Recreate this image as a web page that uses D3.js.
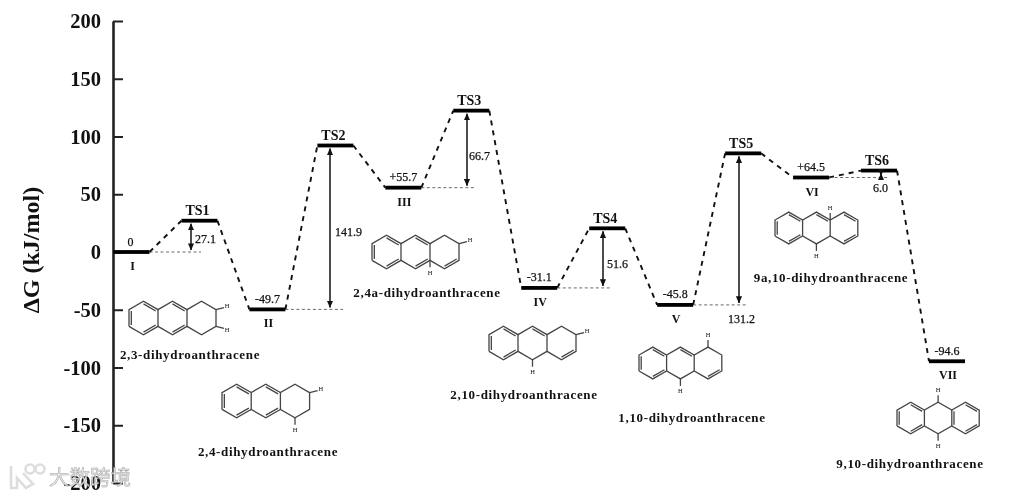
<!DOCTYPE html>
<html>
<head>
<meta charset="utf-8">
<script src="https://cdn.jsdelivr.net/npm/d3@7"></script>
<style>
  body { margin: 0; background: #fff; }
  svg { display: block; filter: blur(0.5px); }
  text { font-family: "Liberation Serif", serif; fill: #111; }
</style>
</head>
<body>
<div id="chart"></div>
<script>
// data
var stages = ["I", "TS1", "II", "TS2", "III", "TS3", "IV", "TS4", "V", "TS5", "VI", "TS6", "VII"];
var energies = [0, 27.1, -49.7, 92.2, 55.7, 122.4, -31.1, 20.5, -45.8, 85.4, 64.5, 70.5, -94.6];
var energyLabels = ["0", "", "-49.7", "", "+55.7", "", "-31.1", "", "-45.8", "", "+64.5", "", "-94.6"];
var barrierStages = [0, 2, 4, 6, 8, 10];
var barrierValues = ["27.1", "141.9", "66.7", "51.6", "131.2", "6.0"];
var yTicks = [200, 150, 100, 50, 0, -50, -100, -150, -200];
var moleculeNames = ["2,3-dihydroanthracene", "2,4-dihydroanthracene", "2,4a-dihydroanthracene",
  "2,10-dihydroanthracene", "1,10-dihydroanthracene", "9a,10-dihydroanthracene", "9,10-dihydroanthracene"];

// molecule structure: atoms are [column, row] on the anthracene lattice
var perimeter = [[0,.5],[0,-.5],[1,-1],[2,-.5],[3,-1],[4,-.5],[5,-1],[6,-.5],[6,.5],[5,1],[4,.5],[3,1],[2,.5],[1,1],[0,.5]];
var innerBonds = [[[2,-.5],[2,.5]], [[4,-.5],[4,.5]]];
var leftRing = [[[0,-.5],[0,.5]], [[1,-1],[2,-.5]], [[1,1],[2,.5]]];
var midDoubles = [[[3,-1],[4,-.5]], [[3,1],[4,.5]]];
var moleculeDoubles = [
  leftRing.concat(midDoubles),
  leftRing.concat(midDoubles),
  leftRing.concat(midDoubles, [[[5,1],[6,.5]]]),
  leftRing.concat([[[3,-1],[4,-.5]], [[5,1],[6,.5]]]),
  leftRing.concat([[[3,-1],[4,-.5]], [[5,1],[6,.5]]]),
  leftRing.concat([[[3,-1],[4,-.5]], [[5,-1],[6,-.5]], [[5,1],[6,.5]]]),
  leftRing.concat([[[4,-.5],[4,.5]], [[5,-1],[6,-.5]], [[5,1],[6,.5]]])
];
var moleculeHydrogens = [
  [[6,-.5,"r"], [6,.5,"r"]],
  [[6,-.5,"r"], [5,1,"d"]],
  [[6,-.5,"r"], [4,.5,"d"]],
  [[6,-.5,"r"], [3,1,"d"]],
  [[5,-1,"u"], [3,1,"d"]],
  [[4,-.5,"u"], [3,1,"d"]],
  [[3,-1,"u"], [3,1,"d"]]
];

// layout
var width = 1011, height = 495;
var barWidth = 36;
var moleculeBoxes = [[129,318,14.5], [222,401,14.6], [372,252,14.5], [489,343,14.5], [639,363,13.8], [775,228,13.8], [897,418,13.7]];
var moleculeNamePos = [[190,359], [268,456], [427,297], [524,399], [692,422], [831,282], [910,468]];
var barrierArrowX = [191, 330, 467, 603, 739, 881];
var barrierRefEnd = [201, 343, 476, 610, 747, 888];
var barrierLabelPos = [[195,243], [335,236], [469,160], [607,268], [728,323], [873,192]];

var svg = d3.select("#chart").append("svg")
  .attr("width", width)
  .attr("height", height);

var x = d3.scaleLinear().domain([0, stages.length - 1]).range([113.5, 929]);
var y = d3.scaleLinear().domain([-200, 200]).range([483, 21]);

var defs = svg.append("defs");
defs.append("marker")
  .attr("id", "head")
  .attr("viewBox", "0 0 8 8")
  .attr("refX", 7.5).attr("refY", 4)
  .attr("markerWidth", 7).attr("markerHeight", 7)
  .attr("markerUnits", "userSpaceOnUse")
  .attr("orient", "auto-start-reverse")
  .append("path")
  .attr("d", "M0,0.5L8,4L0,7.5Z")
  .attr("fill", "#111");

// axis
var axis = d3.axisLeft(y)
  .tickValues(yTicks)
  .tickFormat(function(d) { return String(d); })
  .tickSizeInner(-10)
  .tickSizeOuter(0)
  .tickPadding(12);

var axisG = svg.append("g")
  .attr("transform", "translate(113,0)")
  .call(axis);
axisG.select(".domain").attr("stroke", "#222").attr("stroke-width", 2.6);
axisG.selectAll(".tick line").attr("stroke", "#222").attr("stroke-width", 2);
axisG.selectAll(".tick text")
  .attr("font-family", "Liberation Serif")
  .attr("font-weight", "bold")
  .attr("font-size", 20.5)
  .attr("fill", "#111");

svg.append("text")
  .attr("transform", "translate(39,250) rotate(-90)")
  .attr("text-anchor", "middle")
  .attr("font-weight", "bold")
  .attr("font-size", 24)
  .text("\u0394G (kJ/mol)");

// dashed connectors between levels
var connector = d3.line();
svg.selectAll("path.link")
  .data(d3.pairs(d3.range(stages.length)))
  .enter().append("path")
  .attr("class", "link")
  .attr("fill", "none")
  .attr("stroke", "#111")
  .attr("stroke-width", 1.9)
  .attr("stroke-dasharray", "5,5")
  .attr("d", function(p) {
    return connector([[x(p[0]) + barWidth, y(energies[p[0]])], [x(p[1]), y(energies[p[1]])]]);
  });

// energy levels
svg.selectAll("rect.level")
  .data(stages)
  .enter().append("rect")
  .attr("class", "level")
  .attr("x", function(d, i) { return x(i); })
  .attr("y", function(d, i) { return y(energies[i]) - 1.9; })
  .attr("width", barWidth)
  .attr("height", 3.8)
  .attr("fill", "#000");

// level names
svg.selectAll("text.stage")
  .data(stages)
  .enter().append("text")
  .attr("class", "stage")
  .attr("x", function(d, i) { return x(i) + barWidth / 2 + (i % 2 ? -2 : 1); })
  .attr("y", function(d, i) { return y(energies[i]) + (i % 2 ? -5.5 : 18); })
  .attr("text-anchor", "middle")
  .attr("font-weight", "bold")
  .attr("font-size", function(d, i) { return i % 2 ? 14 : 12; })
  .text(function(d) { return d; });

// energy values above minima
svg.selectAll("text.energy")
  .data(energyLabels)
  .enter().append("text")
  .attr("class", "energy")
  .attr("x", function(d, i) { return x(i) + barWidth / 2 + (i ? 0 : -1); })
  .attr("y", function(d, i) { return y(energies[i]) - 6.5; })
  .attr("text-anchor", "middle")
  .attr("font-size", 12)
  .attr("stroke", "#111")
  .attr("stroke-width", 0.25)
  .text(function(d) { return d; });

// barriers: thin reference line and double arrow
barrierStages.forEach(function(s, i) {
  var y0 = y(energies[s]), y1 = y(energies[s + 1]);
  svg.append("line")
    .attr("x1", x(s) + barWidth).attr("x2", barrierRefEnd[i])
    .attr("y1", y0).attr("y2", y0)
    .attr("stroke", "#444")
    .attr("stroke-width", 0.8)
    .attr("stroke-dasharray", "3,2.5");
  svg.append("line")
    .attr("x1", barrierArrowX[i]).attr("x2", barrierArrowX[i])
    .attr("y1", y0 - 2).attr("y2", y1 + 3)
    .attr("stroke", "#111")
    .attr("stroke-width", 1.5)
    .attr("marker-start", "url(#head)")
    .attr("marker-end", "url(#head)");
  svg.append("text")
    .attr("x", barrierLabelPos[i][0])
    .attr("y", barrierLabelPos[i][1])
    .attr("font-size", 12)
    .attr("stroke", "#111")
    .attr("stroke-width", 0.25)
    .text(barrierValues[i]);
});

// structures
function drawMolecule(idx) {
  var box = moleculeBoxes[idx], u = box[2], r = u * 2 / Math.sqrt(3);
  var mx = d3.scaleLinear().domain([0, 6]).range([box[0], box[0] + 6 * u]);
  var my = d3.scaleLinear().domain([-1, 1]).range([box[1] - r, box[1] + r]);
  var line = d3.line().x(function(a) { return mx(a[0]); }).y(function(a) { return my(a[1]); });
  var g = svg.append("g").attr("class", "molecule");
  var bondStyle = function(sel) {
    sel.attr("fill", "none").attr("stroke", "#444").attr("stroke-width", 1.3);
  };
  g.append("path").attr("d", line(perimeter)).call(bondStyle);
  innerBonds.forEach(function(b) { g.append("path").attr("d", line(b)).call(bondStyle); });

  // second stroke of a double bond, pulled toward the ring centre
  moleculeDoubles[idx].forEach(function(b) {
    var ring = Math.min(2, Math.floor((b[0][0] + b[1][0]) / 4));
    var cx = mx(2 * ring + 1), cy = my(0);
    var pts = b.map(function(a) {
      return [mx(a[0]) + (cx - mx(a[0])) * 0.16, my(a[1]) + (cy - my(a[1])) * 0.16];
    });
    g.append("path").attr("d", d3.line()(pts)).call(bondStyle);
  });

  moleculeHydrogens[idx].forEach(function(h) {
    var hx = mx(h[0]), hy = my(h[1]);
    var dx = h[2] === "r" ? 8 : 0, dy = h[2] === "u" ? -7 : h[2] === "d" ? 7 : (h[1] < 0 ? -2 : 2);
    g.append("path").attr("d", d3.line()([[hx, hy], [hx + dx, hy + dy]])).call(bondStyle);
    g.append("text")
      .attr("x", hx + dx * 1.4)
      .attr("y", hy + dy * 1.75 + 2)
      .attr("text-anchor", "middle")
      .attr("font-size", 6.5)
      .attr("fill", "#333")
      .text("H");
  });
}
moleculeNames.forEach(function(name, i) { drawMolecule(i); });

svg.selectAll("text.molname")
  .data(moleculeNames)
  .enter().append("text")
  .attr("class", "molname")
  .attr("x", function(d, i) { return moleculeNamePos[i][0]; })
  .attr("y", function(d, i) { return moleculeNamePos[i][1]; })
  .attr("text-anchor", "middle")
  .attr("font-weight", "bold")
  .attr("font-size", 13)
  .attr("letter-spacing", 0.65)
  .text(function(d) { return d; });

// site mark bottom left
var mark = svg.append("g")
  .attr("fill", "none")
  .attr("stroke", "#dcdcdc")
  .attr("stroke-width", 2.6)
  .attr("opacity", 0.95);
mark.append("path").attr("d", d3.line()([[11, 466], [11, 488], [17, 488], [17, 478], [26, 488], [33, 484], [23, 473]]));
mark.append("circle").attr("cx", 30).attr("cy", 469).attr("r", 4.5);
mark.append("circle").attr("cx", 40).attr("cy", 469).attr("r", 4.5);
svg.append("text")
  .attr("x", 49).attr("y", 485)
  .style("font-family", "'Noto Sans CJK SC'")
  .style("fill", "#e8e8e8")
  .attr("stroke", "#999")
  .attr("stroke-width", 0.5)
  .attr("font-size", 20.5)
  .attr("opacity", 0.9)
  .text("\u5927\u6570\u8de8\u5883");
</script>
</body>
</html>
